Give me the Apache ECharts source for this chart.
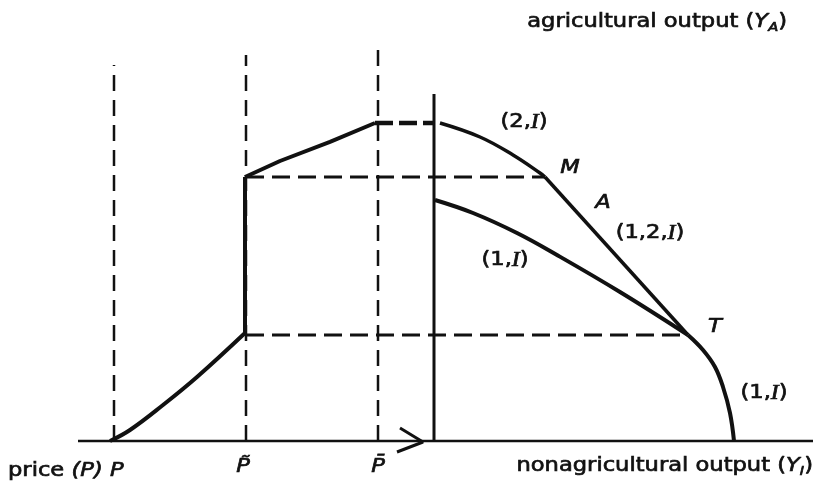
<!DOCTYPE html>
<html>
<head>
<meta charset="utf-8">
<script src="https://cdn.jsdelivr.net/npm/echarts@6/dist/echarts.min.js"></script>
<style>
  html, body { margin: 0; padding: 0; background: #fff; }
  #chart { width: 817px; height: 482px; }
</style>
</head>
<body>
<div id="chart"></div>
<script>
// diagram units: x runs along the bottom axis, y is output / price level
const priceCurve = [[6.4, 0], [10.4, 2.75], [17, 9], [23.8, 16], [33.4, 27]];
const priceJump = [[33.4, 27], [33.4, 66]];
const priceUpper = [[33.4, 66], [40.4, 70], [50.4, 74.8], [59.4, 79.5]];
const priceFlat = [[59.4, 79.5], [71.2, 79.5]];
const frontier2I = [[72.4, 79.5], [80.4, 76], [87, 71.5], [92.4, 67], [93.4, 66]];
const frontier12I = [[93.4, 66], [122, 26.5]];
const frontier1I = [[71.4, 60.25], [79, 57], [87.8, 52], [95.8, 46.5], [108.4, 37.25], [122, 26.5]];
const frontier1Ilow = [[122, 26.5], [125, 22.75], [127.4, 18.5], [129, 13.5], [130.4, 7], [131.2, 0]];
const originLine = [[71.2, 0], [71.2, 86.75]];
const baseAxis = [[0, 0], [147, 0]];
const arrowHead = [[64.4, 3.25], [69, -0.25], [63.8, -2.75]];
// horizontal guides: level, from x, to x
const guideLevels = [[66, 33.6, 93.4], [26.5, 33.6, 122]];
// vertical price guides: x, top
const priceMarks = [[7.2, 94], [33.6, 96.5], [60, 98.5]];

const ink = "#111";

function seg(data, width, dash, smooth) {
  return {
    type: "line",
    data: data,
    symbol: "none",
    smooth: smooth || false,
    clip: false,
    silent: true,
    animation: false,
    lineStyle: {
      color: ink,
      width: width,
      type: dash || "solid",
      cap: "butt"
    }
  };
}

const series = [
  seg(baseAxis, 2.5),
  seg(arrowHead, 3),
  seg(originLine, 3),
  seg(priceCurve, 4, null, 0.4),
  seg(priceJump, 4),
  seg(priceUpper, 4),
  seg(priceFlat, 4.5, [18, 6]),
  seg(frontier2I, 3.5, null, 0.4),
  seg(frontier12I, 3.5),
  seg(frontier1I, 4, null, 0.4),
  seg(frontier1Ilow, 4, null, 0.4)
];
guideLevels.forEach(function (g) {
  series.push(seg([[g[1], g[0]], [g[2], g[0]]], 3, [18, 8]));
});
priceMarks.forEach(function (m) {
  series.push(seg([[m[0], 0], [m[0], m[1]]], 2.5, [16, 9]));
});

const sans = "DejaVu Sans";
const rich = {
  i: { fontFamily: sans, fontStyle: "italic", fontSize: 20, lineHeight: 24 },
  s: { fontFamily: sans, fontStyle: "italic", fontSize: 13, lineHeight: 14, verticalAlign: "bottom" },
  r: { fontFamily: "Liberation Serif", fontStyle: "italic", fontSize: 21, lineHeight: 24 }
};

function label(text, x, y, align, size) {
  return {
    type: "text",
    x: x,
    y: y,
    scaleX: 1.13,
    silent: true,
    style: {
      text: text,
      fill: ink,
      stroke: ink,
      lineWidth: 0.7,
      fontFamily: sans,
      fontSize: size || 20,
      lineHeight: 24,
      align: align || "center",
      verticalAlign: "middle",
      rich: rich
    }
  };
}

const graphic = [
  label("agricultural output ({i|Y}{s|A})", 787, 22, "right"),
  label("nonagricultural output ({i|Y}{s|I})", 813, 466, "right"),
  label("price {i|(P) P}", 8, 471, "left"),
  label("{i|P\u0303}", 243, 467),
  label("{i|P\u0304}", 378, 467),
  label("(2,{r|I})", 524, 122),
  label("{i|M}", 570, 168, "center", 21),
  label("{i|A}", 603, 203, "center", 21),
  label("(1,2,{r|I})", 650, 233),
  label("(1,{r|I})", 505, 260),
  label("{i|T}", 715, 327, "center", 21),
  label("(1,{r|I})", 764, 393)
];

const myChart = echarts.init(document.getElementById("chart"));
myChart.setOption({
  animation: false,
  grid: { left: 78, right: 4, top: 41, bottom: 1 },
  xAxis: { type: "value", min: 0, max: 147, show: false },
  yAxis: { type: "value", min: -10, max: 100, show: false },
  series: series,
  graphic: graphic
});
</script>
</body>
</html>
